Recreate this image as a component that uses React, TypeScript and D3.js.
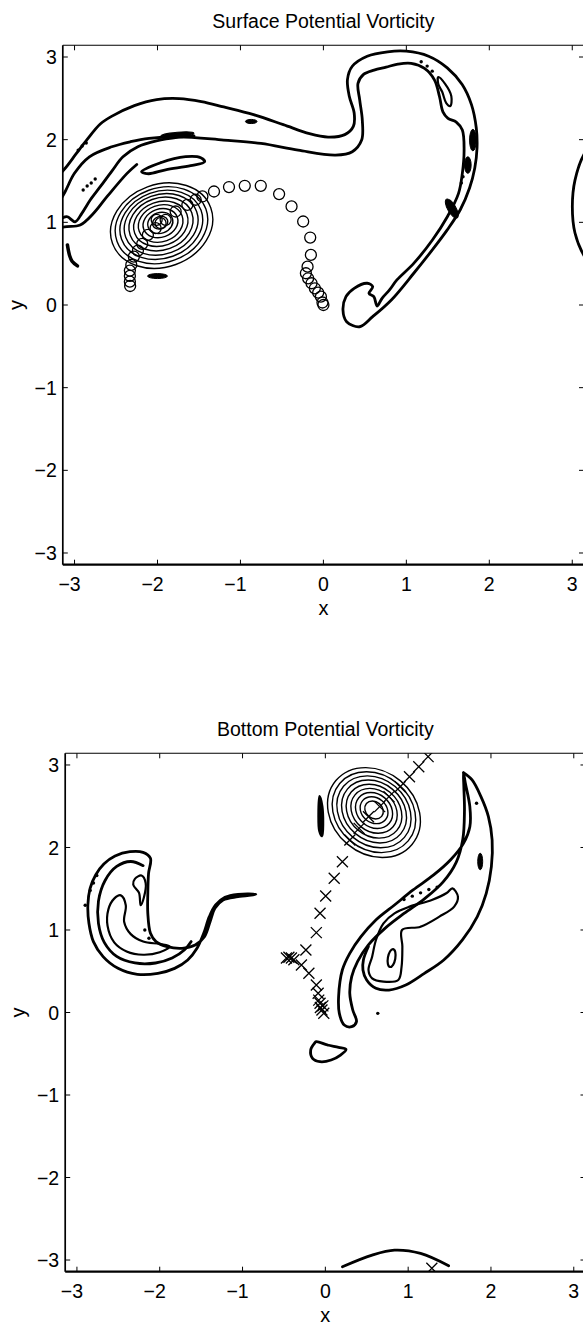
import React from "react";
import * as d3 from "d3";

type P = [number, number];

const X_TICKS = [-3, -2, -1, 0, 1, 2, 3];
const Y_TICKS = [-3, -2, -1, 0, 1, 2, 3];

// ---------------- Surface potential vorticity ----------------
const SURF_BAND: P[] = [
  [-3.2, 1.56], [-3.113, 1.654], [-2.98, 1.83], [-2.85, 2.0], [-2.69, 2.19], [-2.548, 2.285],
  [-2.279, 2.412], [-2.01, 2.485], [-1.74, 2.497], [-1.471, 2.461], [-1.202, 2.396], [-0.842, 2.303],
  [-0.483, 2.182], [-0.168, 2.073], [0.056, 2.032], [0.258, 2.061], [0.361, 2.161], [0.371, 2.323],
  [0.312, 2.525], [0.29, 2.727], [0.348, 2.888], [0.528, 3.01], [0.774, 3.063], [0.999, 3.07],
  [1.268, 3.01], [1.493, 2.869], [1.673, 2.667], [1.785, 2.424], [1.843, 2.141], [1.852, 1.899],
  [1.825, 1.657], [1.762, 1.415], [1.65, 1.152], [1.493, 0.909], [1.313, 0.667], [1.089, 0.384],
  [0.819, 0.061], [0.594, -0.141], [0.437, -0.263], [0.28, -0.202], [0.236, -0.061], [0.272, 0.101],
  [0.371, 0.202], [0.528, 0.263], [0.594, 0.222], [0.55, 0.141], [0.608, 0.101], [0.648, -0.012],
  [0.707, 0.081], [0.797, 0.182], [0.886, 0.303], [1.089, 0.504], [1.314, 0.786], [1.494, 1.068],
  [1.629, 1.351], [1.675, 1.593], [1.696, 1.874], [1.675, 2.116], [1.602, 2.213], [1.502, 2.258],
  [1.441, 2.337], [1.4, 2.519], [1.34, 2.721], [1.219, 2.862], [1.058, 2.923], [0.897, 2.914],
  [0.756, 2.878], [0.611, 2.842], [0.484, 2.79], [0.417, 2.681], [0.438, 2.479], [0.469, 2.237],
  [0.461, 1.995], [0.348, 1.854], [0.146, 1.814], [-0.304, 1.874], [-0.753, 1.955], [-1.203, 1.995],
  [-1.742, 2.035], [-2.102, 2.016], [-2.326, 1.975], [-2.551, 1.914], [-2.821, 1.793], [-3.001, 1.593],
  [-3.114, 1.37], [-3.2, 1.22],
];
const SURF_GAMMA: P[] = [
  [-3.2, 1.02], [-3.093, 1.068], [-2.993, 1.007], [-2.912, 1.109], [-2.811, 1.27], [-2.69, 1.431],
  [-2.55, 1.62], [-2.416, 1.793], [-2.237, 1.914], [-2.013, 1.985], [-1.742, 2.03], [-1.56, 2.045],
];
const SURF_DELTA: P[] = [
  [-3.2, 0.93], [-3.093, 0.947], [-2.932, 0.967], [-2.771, 1.109], [-2.609, 1.31], [-2.367, 1.592],
  [-2.25, 1.7],
];
const SURF_LEFT_J: P[] = [[-3.086, 0.727], [-3.06, 0.6], [-3.03, 0.53], [-2.965, 0.473]];
const SURF_RIGHT_ARC: P[] = [
  [3.25, 1.95], [3.15, 1.838], [3.033, 1.511], [3.001, 1.189], [3.033, 0.871], [3.15, 0.584], [3.25, 0.47],
];
const SURF_LENS: P[] = [
  [-2.192, 1.612], [-1.963, 1.721], [-1.661, 1.794], [-1.479, 1.782], [-1.431, 1.733],
  [-1.6, 1.685], [-1.902, 1.636], [-2.107, 1.588],
];
const SURF_RIGHT_LOOP: P[] = [
  [1.385, 2.757], [1.469, 2.672], [1.542, 2.527], [1.53, 2.406], [1.481, 2.442], [1.433, 2.576], [1.385, 2.672],
];
const SURF_BLOB_X = [-0.87, -2.0, -1.76, 1.802, 1.741, 1.548];
const SURF_BLOB_Y = [2.22, 0.35, 2.06, 1.995, 1.693, 1.167];
const SURF_BLOB_RX = [0.07, 0.12, 0.2, 0.04, 0.04, 0.13];
const SURF_BLOB_RY = [0.025, 0.03, 0.03, 0.13, 0.1, 0.05];
const SURF_BLOB_ROT = [0, 0, -5, 0, 0, 60];
const SURF_DOTS: P[] = [
  [-2.956, 1.874], [-2.908, 1.923], [-2.859, 1.959],
  [-2.896, 1.391], [-2.848, 1.439], [-2.799, 1.475], [-2.751, 1.524],
  [1.179, 2.942], [1.251, 2.89], [1.312, 2.829], [1.683, 1.551], [1.663, 1.475],
];
const SURF_RING_CX = [-1.95, -1.952, -1.954, -1.956, -1.958, -1.96, -1.962, -1.964, -1.966, -1.968];
const SURF_RING_CY = [0.96, 0.965, 0.97, 0.975, 0.98, 0.983, 0.986, 0.99, 0.993, 0.996];
const SURF_RING_RX = [0.63, 0.57, 0.51, 0.455, 0.395, 0.335, 0.275, 0.215, 0.155, 0.095];
const SURF_RING_RY = [0.5, 0.45, 0.405, 0.36, 0.315, 0.265, 0.22, 0.17, 0.125, 0.075];
const SURF_CIRCLES: P[] = [
  [-2.33, 0.23], [-2.333, 0.282], [-2.333, 0.352], [-2.333, 0.416], [-2.316, 0.485], [-2.285, 0.585],
  [-2.236, 0.658], [-2.184, 0.739], [-2.116, 0.848], [-2.023, 0.929], [-2.01, 1.03], [-1.963, 0.99],
  [-1.902, 1.03], [-1.781, 1.131], [-1.64, 1.212], [-1.54, 1.273], [-1.459, 1.313], [-1.319, 1.373],
  [-1.138, 1.427], [-0.948, 1.442], [-0.755, 1.442], [-0.534, 1.342], [-0.384, 1.192], [-0.244, 1.01],
  [-0.159, 0.816], [-0.151, 0.606], [-0.191, 0.464], [-0.211, 0.384], [-0.184, 0.323], [-0.143, 0.263],
  [-0.103, 0.202], [-0.063, 0.149], [-0.03, 0.101], [-0.011, 0.03], [0.0, 0.0],
];

// ---------------- Bottom potential vorticity ----------------
const BOT_SPIRAL_OUTER: P[] = [
  [-2.112, 1.869], [-2.202, 1.941], [-2.36, 1.949], [-2.54, 1.897], [-2.675, 1.8], [-2.774, 1.667],
  [-2.841, 1.505], [-2.868, 1.303], [-2.855, 1.081], [-2.801, 0.859], [-2.684, 0.677], [-2.504, 0.535],
  [-2.27, 0.463], [-2.022, 0.475], [-1.82, 0.535], [-1.662, 0.636], [-1.55, 0.778], [-1.469, 0.96],
  [-1.401, 1.162], [-1.325, 1.303], [-1.212, 1.396], [-1.055, 1.432], [-0.839, 1.432], [-1.055, 1.404],
  [-1.235, 1.364], [-1.334, 1.263], [-1.392, 1.101], [-1.46, 0.919], [-1.572, 0.818], [-1.73, 0.778],
  [-1.91, 0.798], [-2.045, 0.859], [-2.112, 0.96], [-2.144, 1.202], [-2.144, 1.444], [-2.135, 1.687],
];
const BOT_SPIRAL_MID: P[] = [
  [-2.2, 1.78], [-2.35, 1.83], [-2.52, 1.77], [-2.66, 1.6], [-2.74, 1.35], [-2.74, 1.08], [-2.67, 0.85],
  [-2.52, 0.68], [-2.3, 0.6], [-2.05, 0.6], [-1.85, 0.66], [-1.7, 0.76], [-1.62, 0.86],
];
const BOT_SPIRAL_INNER: P[] = [
  [-2.62, 1.25], [-2.55, 1.38], [-2.47, 1.42], [-2.41, 1.3], [-2.43, 1.1], [-2.35, 0.95], [-2.2, 0.86],
  [-2.0, 0.83], [-1.88, 0.8], [-2.0, 0.73], [-2.2, 0.7], [-2.4, 0.74], [-2.55, 0.85], [-2.63, 1.05],
];
const BOT_SPIRAL_FLAME: P[] = [
  [-2.3, 1.62], [-2.22, 1.66], [-2.17, 1.57], [-2.19, 1.4], [-2.23, 1.3], [-2.25, 1.45], [-2.32, 1.55],
];
const BOT_CRESCENT_RIM: P[] = [
  [1.668, 2.907], [1.691, 2.778], [1.745, 2.495], [1.745, 2.252], [1.668, 2.05], [1.51, 1.848],
  [1.308, 1.667], [1.06, 1.485], [0.835, 1.303], [0.61, 1.121], [0.43, 0.919], [0.295, 0.717],
  [0.205, 0.515], [0.16, 0.192], [0.169, -0.01], [0.228, -0.152], [0.318, -0.172], [0.376, -0.111],
  [0.331, 0.03], [0.295, 0.232], [0.318, 0.434], [0.39, 0.62], [0.52, 0.82], [0.72, 1.02], [0.95, 1.2],
  [1.2, 1.38], [1.42, 1.58], [1.58, 1.82], [1.66, 2.1], [1.68, 2.45], [1.672, 2.75],
];
const BOT_CRESCENT_OUT: P[] = [
  [1.668, 2.907], [1.772, 2.818], [1.879, 2.616], [1.969, 2.374], [2.014, 2.091], [2.005, 1.768],
  [1.943, 1.444], [1.835, 1.162], [1.655, 0.879], [1.43, 0.636], [1.196, 0.474], [0.971, 0.333],
  [0.768, 0.272], [0.61, 0.293], [0.499, 0.394], [0.454, 0.515], [0.46, 0.64], [0.52, 0.8],
];
const BOT_CRESCENT_INNER: P[] = [
  [0.926, 1.0], [1.15, 1.04], [1.377, 1.162], [1.556, 1.283], [1.601, 1.404], [1.534, 1.505],
  [1.465, 1.448], [1.286, 1.364], [1.017, 1.283], [0.835, 1.202], [0.702, 1.081], [0.611, 0.879],
  [0.565, 0.677], [0.521, 0.515], [0.565, 0.414], [0.702, 0.374], [0.881, 0.394], [0.92, 0.55],
  [0.93, 0.8],
];
const BOT_STRIP: P[] = [[-0.07, 2.62], [-0.04, 2.5], [-0.03, 2.3], [-0.04, 2.14], [-0.07, 2.2], [-0.08, 2.4]];
const BOT_BEAN: P[] = [
  [-0.11, -0.354], [0.025, -0.394], [0.16, -0.423], [0.25, -0.447], [0.183, -0.516], [0.07, -0.576],
  [-0.065, -0.596], [-0.155, -0.556], [-0.177, -0.455], [-0.132, -0.374],
];
const BOT_ARC: P[] = [[0.206, -3.081], [0.565, -2.94], [0.835, -2.88], [1.15, -2.92], [1.489, -3.07]];
const BOT_BLOB_X = [1.87];
const BOT_BLOB_Y = [1.83];
const BOT_BLOB_RX = [0.03];
const BOT_BLOB_RY = [0.1];
const BOT_LOOP_X = [0.8];
const BOT_LOOP_Y = [0.66];
const BOT_LOOP_RX = [0.045];
const BOT_LOOP_RY = [0.11];
const BOT_DOTS: P[] = [
  [1.826, 2.536], [0.633, -0.01],
  [0.95, 1.37], [1.05, 1.41], [1.15, 1.45], [1.25, 1.49], [1.35, 1.52],
  [-2.9, 1.3], [-2.84, 1.48], [-2.8, 1.57], [-2.76, 1.66], [-2.18, 1.0], [-2.13, 0.9],
];
const BOT_RING_CX = [0.587, 0.587, 0.587, 0.588, 0.588, 0.588, 0.588, 0.588, 0.588];
const BOT_RING_CY = [2.424, 2.428, 2.432, 2.436, 2.44, 2.444, 2.448, 2.452, 2.455];
const BOT_RING_RX = [0.6, 0.54, 0.48, 0.42, 0.36, 0.3, 0.24, 0.18, 0.12];
const BOT_RING_RY = [0.5, 0.45, 0.4, 0.35, 0.3, 0.25, 0.2, 0.15, 0.1];
const BOT_CROSSES: P[] = [
  [1.241, 3.101], [1.128, 2.979], [1.016, 2.858], [0.903, 2.737], [0.769, 2.616], [0.656, 2.495],
  [0.521, 2.373], [0.408, 2.232], [0.296, 2.091], [0.206, 1.828], [0.107, 1.627], [0.004, 1.412],
  [-0.064, 1.202], [-0.109, 0.968], [-0.235, 0.758], [-0.289, 0.576], [-0.199, 0.475], [-0.109, 0.333],
  [-0.087, 0.233], [-0.064, 0.112], [-0.041, 0.03], [-0.019, -0.01], [-0.06, 0.06], [-0.03, 0.08],
  [-0.08, 0.15], [-0.47, 0.66], [-0.44, 0.67], [-0.41, 0.66], [-0.38, 0.64], [1.286, -3.1],
];

const FONT = "'Liberation Sans', Arial, Helvetica, sans-serif";
const W = 583;
const H = 1328;

type Sc = d3.ScaleLinear<number, number>;

function fmt(v: number) {
  return v < 0 ? "\u2212" + Math.abs(v) : String(v);
}

function Axes(props: { id: string; title: string; xs: Sc; ys: Sc; children: React.ReactNode }) {
  const { id, title, xs, ys } = props;
  const [xl, xr] = xs.range();
  const [yb, yt] = ys.range();
  const tl = 5;
  return (
    <g>
      <text x={(xl + xr) / 2} y={yt - 17} textAnchor="middle" fontSize={19.5} fontFamily={FONT}>
        {title}
      </text>
      <defs>
        <clipPath id={id}>
          <rect x={xl} y={yt} width={xr - xl} height={yb - yt} />
        </clipPath>
      </defs>
      <g clipPath={`url(#${id})`}>{props.children}</g>
      <line x1={xl} x2={xr} y1={yt} y2={yt} stroke="#000" strokeWidth={1.1} />
      <line x1={xr} x2={xr} y1={yt} y2={yb} stroke="#000" strokeWidth={1.1} />
      <line x1={xl} x2={xl} y1={yt} y2={yb} stroke="#000" strokeWidth={1.7} />
      <line x1={xl} x2={xr} y1={yb} y2={yb} stroke="#000" strokeWidth={2.2} />
      {X_TICKS.map((t) => (
        <g key={"x" + t}>
          <line x1={xs(t)} x2={xs(t)} y1={yb} y2={yb - tl} stroke="#000" strokeWidth={1} />
          <line x1={xs(t)} x2={xs(t)} y1={yt} y2={yt + tl} stroke="#000" strokeWidth={1} />
          <text x={xs(t) - (t < 0 ? 5 : 0)} y={yb + 26} textAnchor="middle" fontSize={19.5} fontFamily={FONT}>
            {fmt(t)}
          </text>
        </g>
      ))}
      {Y_TICKS.map((t) => (
        <g key={"y" + t}>
          <line x1={xl} x2={xl + tl} y1={ys(t)} y2={ys(t)} stroke="#000" strokeWidth={1} />
          <line x1={xr} x2={xr - tl} y1={ys(t)} y2={ys(t)} stroke="#000" strokeWidth={1} />
          <text x={xl - 6} y={ys(t)} dy="0.36em" textAnchor="end" fontSize={19.5} fontFamily={FONT}>
            {fmt(t)}
          </text>
        </g>
      ))}
      <text x={xs(0)} y={yb + 50} textAnchor="middle" fontSize={20} fontFamily={FONT}>
        x
      </text>
      <text
        transform={`translate(${xl - 46},${ys(0)}) rotate(-90)`}
        textAnchor="middle"
        dy="0.3em"
        fontSize={20}
        fontFamily={FONT}
      >
        y
      </text>
    </g>
  );
}

function ellipses(
  xs: Sc, ys: Sc, cx: number[], cy: number[], rx: number[], ry: number[], rot: number[],
  fill: string, sw: number,
) {
  return cx.map((c, i) => {
    const px = xs(c);
    const py = ys(cy[i]);
    return (
      <ellipse
        key={"e" + i}
        cx={px}
        cy={py}
        rx={xs(c + rx[i]) - px}
        ry={py - ys(cy[i] + ry[i])}
        transform={`rotate(${rot[i % rot.length]},${px},${py})`}
        fill={fill}
        stroke="#000"
        strokeWidth={sw}
      />
    );
  });
}

export default function App() {
  const xsT = d3.scaleLinear().domain([-Math.PI, Math.PI]).range([62.8, 584]);
  const ysT = d3.scaleLinear().domain([-Math.PI, Math.PI]).range([564.7, 45.3]);
  const xsB = d3.scaleLinear().domain([-Math.PI, Math.PI]).range([65.2, 585.5]);
  const ysB = d3.scaleLinear().domain([-Math.PI, Math.PI]).range([1271.7, 753.3]);

  const open = (xs: Sc, ys: Sc) =>
    d3.line<P>().x((d) => xs(d[0])).y((d) => ys(d[1])).curve(d3.curveCatmullRom.alpha(0.5));
  const closed = (xs: Sc, ys: Sc) =>
    d3.line<P>().x((d) => xs(d[0])).y((d) => ys(d[1])).curve(d3.curveCatmullRomClosed.alpha(0.5));

  const oT = open(xsT, ysT);
  const cT = closed(xsT, ysT);
  const oB = open(xsB, ysB);
  const cB = closed(xsB, ysB);
  const thick = { fill: "none", stroke: "#000", strokeWidth: 2.8, strokeLinejoin: "round" as const, strokeLinecap: "round" as const };

  return (
    <svg
      width={W}
      height={H}
      viewBox={`0 0 ${W} ${H}`}
      style={{ position: "absolute", left: 0, top: 0, background: "#fff" }}
    >
      <rect width={W} height={H} fill="#fff" />
      <Axes id="clipT" title="Surface Potential Vorticity" xs={xsT} ys={ysT}>
        <path d={oT(SURF_BAND) || ""} {...thick} />
        <path d={oT(SURF_GAMMA) || ""} {...thick} />
        <path d={oT(SURF_DELTA) || ""} {...thick} />
        <path d={oT(SURF_LEFT_J) || ""} {...thick} strokeWidth={3.5} />
        <path d={oT(SURF_RIGHT_ARC) || ""} {...thick} />
        <path d={cT(SURF_LENS) || ""} {...thick} />
        <path d={cT(SURF_RIGHT_LOOP) || ""} {...thick} strokeWidth={2.2} />
        {ellipses(xsT, ysT, SURF_BLOB_X, SURF_BLOB_Y, SURF_BLOB_RX, SURF_BLOB_RY, SURF_BLOB_ROT, "#000", 1)}
        {SURF_DOTS.map((d, i) => (
          <circle key={"d" + i} cx={xsT(d[0])} cy={ysT(d[1])} r={1.7} fill="#000" />
        ))}
        {ellipses(xsT, ysT, SURF_RING_CX, SURF_RING_CY, SURF_RING_RX, SURF_RING_RY, [-20], "none", 1.4)}
        {SURF_CIRCLES.map((d, i) => (
          <circle key={"c" + i} cx={xsT(d[0])} cy={ysT(d[1])} r={5.5} fill="none" stroke="#000" strokeWidth={1.3} />
        ))}
      </Axes>
      <Axes id="clipB" title="Bottom Potential Vorticity" xs={xsB} ys={ysB}>
        <path d={cB(BOT_SPIRAL_OUTER) || ""} {...thick} />
        <path d={oB(BOT_SPIRAL_MID) || ""} {...thick} />
        <path d={cB(BOT_SPIRAL_INNER) || ""} {...thick} strokeWidth={2.2} />
        <path d={cB(BOT_SPIRAL_FLAME) || ""} {...thick} strokeWidth={2.2} />
        <path d={cB(BOT_CRESCENT_RIM) || ""} {...thick} />
        <path d={oB(BOT_CRESCENT_OUT) || ""} {...thick} />
        <path d={cB(BOT_CRESCENT_INNER) || ""} {...thick} strokeWidth={2.2} />
        {ellipses(xsB, ysB, BOT_LOOP_X, BOT_LOOP_Y, BOT_LOOP_RX, BOT_LOOP_RY, [10], "none", 2.2)}
        <path d={cB(BOT_STRIP) || ""} {...thick} fill="#000" />
        <path d={cB(BOT_BEAN) || ""} {...thick} />
        <path d={oB(BOT_ARC) || ""} {...thick} />
        {ellipses(xsB, ysB, BOT_BLOB_X, BOT_BLOB_Y, BOT_BLOB_RX, BOT_BLOB_RY, [0], "#000", 1)}
        {BOT_DOTS.map((d, i) => (
          <circle key={"d" + i} cx={xsB(d[0])} cy={ysB(d[1])} r={1.7} fill="#000" />
        ))}
        {ellipses(xsB, ysB, BOT_RING_CX, BOT_RING_CY, BOT_RING_RX, BOT_RING_RY, [40], "none", 1.4)}
        {BOT_CROSSES.map((d, i) => {
          const px = xsB(d[0]);
          const py = ysB(d[1]);
          const s = 5.5;
          return (
            <path
              key={"x" + i}
              d={`M${px - s},${py - s}L${px + s},${py + s}M${px - s},${py + s}L${px + s},${py - s}`}
              stroke="#000"
              strokeWidth={1.3}
              fill="none"
            />
          );
        })}
      </Axes>
    </svg>
  );
}
